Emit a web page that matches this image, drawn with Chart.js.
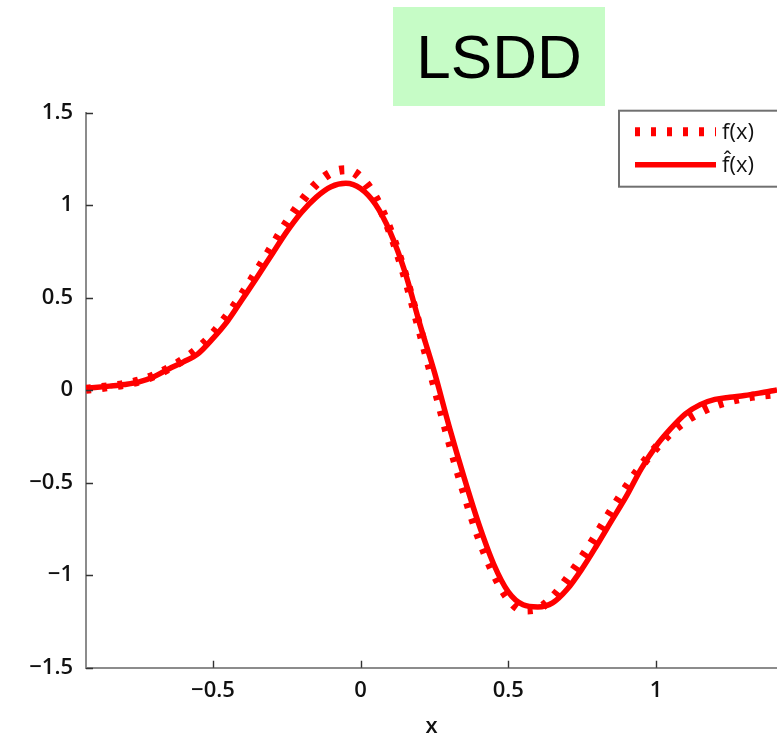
<!DOCTYPE html>
<html>
<head>
<meta charset="utf-8">
<script src="https://cdn.jsdelivr.net/npm/chart.js@4.4.1/dist/chart.umd.min.js"></script>
<style>
  html, body { margin: 0; padding: 0; background: #fff; overflow: hidden; }
  #wrap { position: relative; width: 777px; height: 734px; }
  #badge {
    position: absolute; left: 393px; top: 7px; width: 212px; height: 99px;
    background: #c6fcc6; color: #000;
    font: 62px "Liberation Sans", Arial, sans-serif;
    line-height: 99px; text-align: center;
  }
</style>
</head>
<body>
<div id="wrap">
  <canvas id="c" width="777" height="734"></canvas>
  <div id="badge">LSDD</div>
</div>
<script>
// sample positions along x
const xs = [-0.93, -0.90, -0.85, -0.80, -0.75, -0.70, -0.65, -0.60, -0.55, -0.50,
            -0.45, -0.40, -0.35, -0.30, -0.25, -0.20, -0.15, -0.10, -0.05, 0.00,
             0.05,  0.10,  0.15,  0.20,  0.25,  0.30,  0.35,  0.40,  0.45, 0.50,
             0.55,  0.60,  0.65,  0.70,  0.75,  0.80,  0.85,  0.90,  0.95, 1.00,
             1.05,  1.10,  1.15,  1.20,  1.25,  1.30,  1.35,  1.41];

// true density derivative f(x)
const fTrue = [0.005, 0.010, 0.020, 0.032, 0.050, 0.078, 0.118, 0.165, 0.225, 0.305,
               0.405, 0.520, 0.645, 0.775, 0.905, 1.020, 1.115, 1.175, 1.192, 1.150,
               1.040, 0.860, 0.620, 0.330, 0.030, -0.270, -0.545, -0.790, -0.985, -1.125,
               -1.188, -1.180, -1.120, -1.020, -0.905, -0.780, -0.650, -0.525, -0.410, -0.312,
               -0.230, -0.165, -0.118, -0.082, -0.058, -0.040, -0.028, -0.018];

// LSDD estimate f^(x)
const fHat = [0.010, 0.014, 0.022, 0.031, 0.045, 0.073, 0.115, 0.153, 0.198, 0.280,
              0.375, 0.493, 0.612, 0.735, 0.857, 0.962, 1.044, 1.100, 1.118, 1.090,
              1.005, 0.855, 0.640, 0.360, 0.097, -0.197, -0.470, -0.723, -0.938, -1.090,
              -1.160, -1.172, -1.150, -1.075, -0.965, -0.838, -0.705, -0.573, -0.425, -0.303,
              -0.208, -0.128, -0.078, -0.050, -0.038, -0.029, -0.016, 0.002];

const xTicks = [-0.5, 0, 0.5, 1];
const yTicks = [-1.5, -1, -0.5, 0, 0.5, 1, 1.5];
const seriesLabels = ['f(x)', 'f\u0302(x)'];

const fmt = v => (v < 0 ? '\u2212' : '') + String(Math.abs(v));
const pts = ys => xs.map((x, i) => ({ x: x, y: ys[i] }));

// short inward tick marks on both axes
const inwardTicks = {
  id: 'inwardTicks',
  afterDraw(chart) {
    const { ctx, chartArea: { left, bottom }, scales: { x, y } } = chart;
    ctx.save();
    ctx.strokeStyle = '#333';
    ctx.lineWidth = 1.4;
    ctx.beginPath();
    xTicks.forEach(v => {
      const px = Math.round(x.getPixelForValue(v)) + 0.5;
      ctx.moveTo(px, bottom); ctx.lineTo(px, bottom - 7);
    });
    yTicks.forEach(v => {
      const py = Math.round(y.getPixelForValue(v)) + 0.5;
      ctx.moveTo(left, py); ctx.lineTo(left + 7, py);
    });
    ctx.stroke();
    ctx.restore();
  }
};

// boxed legend in the upper right corner
const cornerLegend = {
  id: 'cornerLegend',
  afterDatasetsDraw(chart) {
    const { ctx, chartArea } = chart;
    const bx = 619, by = chartArea.top - 2;
    ctx.save();
    ctx.fillStyle = '#fff';
    ctx.fillRect(bx, by, 200, 76);
    ctx.strokeStyle = '#707070';
    ctx.lineWidth = 2;
    ctx.strokeRect(bx, by, 200, 76);
    chart.data.datasets.forEach((ds, i) => {
      const yy = by + 21 + i * 33;
      ctx.beginPath();
      ctx.setLineDash(ds.borderDash || []);
      ctx.lineWidth = ds.borderWidth;
      ctx.strokeStyle = ds.borderColor;
      ctx.lineCap = 'butt';
      ctx.moveTo(bx + 16, yy); ctx.lineTo(bx + 97, yy);
      ctx.stroke();
      ctx.setLineDash([]);
      ctx.fillStyle = '#111';
      ctx.font = '22px "Open Sans", sans-serif';
      ctx.textBaseline = 'middle';
      ctx.textAlign = 'left';
      ctx.fillText(ds.label, bx + 103, yy + 1);
    });
    ctx.restore();
  }
};

new Chart(document.getElementById('c'), {
  type: 'scatter',
  data: {
    datasets: [
      {
        label: seriesLabels[0],
        data: pts(fTrue),
        showLine: true,
        borderColor: '#ff0000',
        backgroundColor: '#ff0000',
        borderWidth: 9,
        borderDash: [5, 11],
        pointRadius: 0,
        cubicInterpolationMode: 'monotone',
        order: 1
      },
      {
        label: seriesLabels[1],
        data: pts(fHat),
        showLine: true,
        borderColor: '#ff0000',
        backgroundColor: '#ff0000',
        borderWidth: 5.5,
        pointRadius: 0,
        cubicInterpolationMode: 'monotone',
        order: 0
      }
    ]
  },
  options: {
    responsive: false,
    animation: false,
    devicePixelRatio: 1,
    layout: { padding: { top: 112.7, left: 0, right: 0, bottom: 0 } },
    plugins: { legend: { display: false }, tooltip: { enabled: false } },
    scales: {
      x: {
        type: 'linear',
        min: -0.93,
        max: 1.41,
        afterBuildTicks: s => { s.ticks = xTicks.map(v => ({ value: v })); },
        afterFit: s => { s.height = 66.3; },
        grid: { display: false, drawTicks: false },
        border: { display: true, color: '#8c8c8c', width: 2 },
        ticks: {
          padding: 10,
          color: '#111',
          font: { family: '"Open Sans", sans-serif', size: 22, weight: '600' },
          callback: v => fmt(v)
        },
        title: {
          display: true,
          text: 'x',
          color: '#111',
          padding: { top: 0, bottom: 0 },
          font: { family: '"Open Sans", sans-serif', size: 22, weight: '600', lineHeight: 0.62 }
        }
      },
      y: {
        type: 'linear',
        min: -1.5,
        max: 1.5,
        afterBuildTicks: s => { s.ticks = yTicks.map(v => ({ value: v })); },
        afterFit: s => { s.width = 86; },
        grid: { display: false, drawTicks: false },
        border: { display: true, color: '#8c8c8c', width: 2 },
        ticks: {
          padding: 13,
          color: '#111',
          font: { family: '"Open Sans", sans-serif', size: 22, weight: '600' },
          callback: v => fmt(v)
        }
      }
    }
  },
  plugins: [inwardTicks, cornerLegend]
});
</script>
</body>
</html>
